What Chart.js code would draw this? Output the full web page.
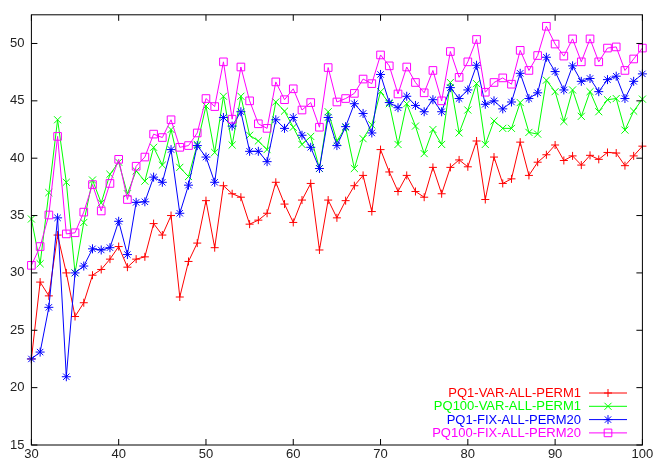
<!DOCTYPE html>
<html>
<head>
<meta charset="utf-8">
<script src="https://cdn.jsdelivr.net/npm/chart.js@4/dist/chart.umd.min.js"></script>
<style>
  html, body { margin: 0; padding: 0; background: #fff; }
  canvas { display: block; }
</style>
</head>
<body>
<canvas id="c" width="656" height="463"></canvas>
<script>
// Query sizes on the x axis
const xValues = [30,31,32,33,34,35,36,37,38,39,40,41,42,43,44,45,46,47,48,49,50,
  51,52,53,54,55,56,57,58,59,60,61,62,63,64,65,66,67,68,69,70,
  71,72,73,74,75,76,77,78,79,80,81,82,83,84,85,86,87,88,89,90,
  91,92,93,94,95,96,97,98,99,100];

const seriesNames = ['PQ1-VAR-ALL-PERM1', 'PQ100-VAR-ALL-PERM1', 'PQ1-FIX-ALL-PERM20', 'PQ100-FIX-ALL-PERM20'];

const pq1VarPerm1 = [22.5,29.2,28.0,33.3,30.0,26.2,27.4,29.8,30.3,31.2,32.3,
  30.5,31.2,31.4,34.3,33.3,35.0,27.9,31.0,32.6,36.3,
  32.2,37.6,36.9,36.6,34.25,34.6,35.2,37.9,36.0,34.4,
  36.35,37.8,32.0,36.35,34.8,36.3,37.6,38.5,35.35,40.75,
  38.8,37.1,38.5,37.1,36.6,39.2,36.9,39.2,39.85,39.25,
  41.5,36.4,40.1,37.8,38.2,41.4,38.5,39.65,40.3,41.15,
  39.8,40.2,39.4,40.25,39.9,40.5,40.45,39.35,40.2,41.05];

const pq100VarPerm1 = [34.7,30.8,37.0,43.35,37.9,30.0,34.4,38.1,36.1,38.6,39.65,
  36.9,38.9,38.0,40.95,39.4,42.5,39.2,38.4,41.2,44.55,
  40.5,45.4,41.15,45.4,42.0,41.5,40.75,44.9,44.1,42.7,
  41.2,41.9,39.1,44.05,41.5,42.7,39.1,41.7,42.9,45.8,
  44.75,41.2,44.75,42.8,40.4,42.5,41.2,46.6,42.2,44.2,
  46.5,41.2,43.25,42.6,42.6,44.85,42.25,42.1,46.8,45.8,
  43.2,45.95,43.65,45.8,44.05,45.1,45.2,42.45,44.1,45.15];

const pq1FixPerm20 = [22.5,23.1,27.0,34.8,20.95,30.0,30.6,32.1,32.0,32.2,34.5,
  31.6,36.15,36.2,38.35,37.9,40.75,35.2,37.65,41.1,40.1,
  37.9,43.55,42.8,44.05,40.6,40.6,39.7,43.35,42.6,43.55,
  42.0,40.95,39.1,43.55,41.1,42.75,44.75,43.9,42.2,47.3,
  44.85,44.4,45.4,44.6,44.05,45.1,44.05,46.15,45.2,45.95,
  48.1,44.7,45.0,44.3,44.9,47.4,45.2,45.7,48.8,47.55,
  45.95,48.05,46.7,46.95,45.8,46.85,47.15,45.2,46.7,47.35];

const pq100FixPerm20 = [30.66,32.3,35.05,41.9,33.4,33.5,35.3,37.7,35.4,37.8,39.9,
  36.4,39.3,40.1,42.1,41.8,43.35,40.95,41.1,42.2,45.2,
  44.5,48.4,43.4,47.95,45.0,43.0,42.6,46.65,45.1,46.05,
  44.2,44.85,42.7,47.9,44.9,45.2,45.65,46.9,46.5,49.0,
  48.05,45.6,47.95,46.6,45.7,47.65,45.0,49.3,47.05,48.4,
  50.35,45.75,46.6,47.0,46.45,49.4,47.65,48.95,51.5,49.95,
  48.9,50.4,48.4,50.4,48.4,49.6,49.7,47.65,48.65,49.6];

const xTicks = [30,40,50,60,70,80,90,100];
const yTicks = [15,20,25,30,35,40,45,50];

const FONT = '"Liberation Sans", Arial, Helvetica, sans-serif';
const TEXT_COLOR = '#222';

const seriesValues = [pq1VarPerm1, pq100VarPerm1, pq1FixPerm20, pq100FixPerm20];
const seriesStyle = [
  { color: '#ff0000', pointStyle: 'cross',    radius: 4   },
  { color: '#00ff00', pointStyle: 'crossRot', radius: 5   },
  { color: '#0000ff', pointStyle: 'star',     radius: 4.5 },
  { color: '#ff00ff', pointStyle: 'rect',     radius: 5.4 }
];

const datasets = seriesNames.map((name, i) => ({
  label: name,
  data: xValues.map((x, k) => ({ x: x, y: seriesValues[i][k] })),
  borderColor: seriesStyle[i].color,
  backgroundColor: 'rgba(0,0,0,0)',
  borderWidth: 1,
  pointStyle: seriesStyle[i].pointStyle,
  pointRadius: seriesStyle[i].radius,
  pointBorderWidth: 1,
  pointBorderColor: seriesStyle[i].color,
  pointBackgroundColor: 'rgba(0,0,0,0)',
  tension: 0,
  fill: false,
  clip: false,
  order: seriesNames.length - i
}));

// Frame around the plot with inward tick marks on all four sides
const framePlugin = {
  id: 'frame',
  afterDatasetsDraw(chart) {
    const { ctx, chartArea: a, scales } = chart;
    const len = 6;
    ctx.save();
    ctx.strokeStyle = '#000';
    ctx.lineWidth = 1;
    ctx.beginPath();
    xTicks.forEach(v => {
      const px = scales.x.getPixelForValue(v);
      ctx.moveTo(px, a.bottom); ctx.lineTo(px, a.bottom - len);
      ctx.moveTo(px, a.top); ctx.lineTo(px, a.top + len);
    });
    yTicks.forEach(v => {
      const py = scales.y.getPixelForValue(v);
      ctx.moveTo(a.left, py); ctx.lineTo(a.left + len, py);
      ctx.moveTo(a.right, py); ctx.lineTo(a.right - len, py);
    });
    ctx.stroke();
    ctx.strokeRect(a.left, a.top, a.right - a.left, a.bottom - a.top);
    ctx.restore();
  }
};

// Key in the lower right corner: coloured title, then a line sample with its marker
const keyPlugin = {
  id: 'key',
  afterDraw(chart) {
    const { ctx, chartArea: a } = chart;
    const rowH = 13.3;
    const textRight = a.right - 61.4;
    const lineL = a.right - 53.4, lineR = a.right - 15.4;
    const markX = a.right - 34.4;
    ctx.save();
    ctx.font = '13px ' + FONT;
    ctx.textAlign = 'right';
    ctx.textBaseline = 'middle';
    chart.data.datasets.forEach((ds, i) => {
      const y = a.bottom - 52 + i * rowH;
      ctx.fillStyle = ds.borderColor;
      ctx.fillText(ds.label, textRight, y + 0.5);
      ctx.strokeStyle = ds.borderColor;
      ctx.lineWidth = 1;
      ctx.beginPath();
      ctx.moveTo(lineL, y); ctx.lineTo(lineR, y);
      ctx.stroke();
      ctx.fillStyle = 'rgba(0,0,0,0)';
      Chart.helpers.drawPoint(ctx, {
        pointStyle: ds.pointStyle, radius: ds.pointRadius, rotation: 0, borderWidth: 1
      }, markX, y);
    });
    ctx.restore();
  }
};

new Chart(document.getElementById('c'), {
  type: 'line',
  data: { datasets },
  options: {
    responsive: false,
    devicePixelRatio: 1,
    animation: false,
    events: [],
    layout: { padding: { top: 11.7, right: 13.6, left: 0, bottom: 0 } },
    plugins: { legend: { display: false }, tooltip: { enabled: false } },
    scales: {
      x: {
        type: 'linear',
        min: 30, max: 100,
        grid: { display: false, drawTicks: false },
        border: { display: false },
        afterBuildTicks: s => { s.ticks = xTicks.map(v => ({ value: v })); },
        afterFit: s => { s.height = 18; },
        ticks: { color: TEXT_COLOR, font: { family: FONT, size: 13 }, padding: 2, maxRotation: 0, autoSkip: false }
      },
      y: {
        type: 'linear',
        min: 15, max: 52.5,
        grid: { display: false, drawTicks: false },
        border: { display: false },
        afterBuildTicks: s => { s.ticks = yTicks.map(v => ({ value: v })); },
        afterFit: s => { s.width = 31.4; },
        ticks: { color: TEXT_COLOR, font: { family: FONT, size: 13 }, padding: 7, autoSkip: false }
      }
    }
  },
  plugins: [framePlugin, keyPlugin]
});
</script>
</body>
</html>
